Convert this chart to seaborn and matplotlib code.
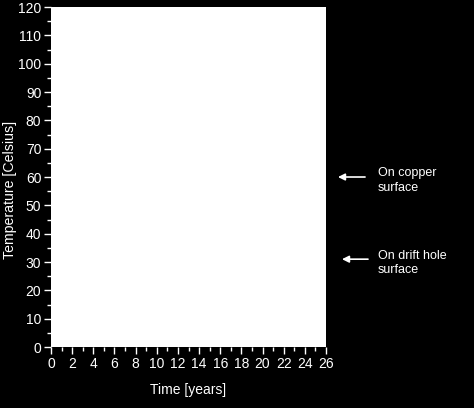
import matplotlib
matplotlib.use("Agg")
import matplotlib.pyplot as plt
import seaborn as sns
import pandas as pd

# Data (the reference chart shows an empty plot area)
time_years = []
temperature_c = []
x_ticks = list(range(0, 27, 2))
y_ticks = list(range(0, 121, 10))
annot_labels = ["On copper\nsurface", "On drift hole\nsurface"]
annot_values = [60, 31]

sns.set_style("white")
plt.rcParams['font.family'] = ['Liberation Sans', 'DejaVu Sans']

fig = plt.figure(figsize=(4.74, 4.08), dpi=100, facecolor="black")
ax = fig.add_axes([0.1076, 0.1495, 0.5802, 0.8333])
ax.set_facecolor("white")

df = pd.DataFrame({"t": pd.Series(time_years, dtype=float),
                   "T": pd.Series(temperature_c, dtype=float)})
if len(df):
    sns.lineplot(data=df, x="t", y="T", ax=ax)

ax.set_xlim(0, 26)
ax.set_ylim(0, 120)
ax.set_xticks(x_ticks)
ax.set_yticks(y_ticks)
ax.set_xticks(range(0, 27), minor=True)
ax.set_yticks(range(0, 121, 5), minor=True)
for s in ax.spines.values():
    s.set_visible(False)
ax.tick_params(which="both", direction="out", colors="white", labelcolor="white")
ax.tick_params(which="major", length=5, width=1, labelsize=10, pad=2)
ax.tick_params(which="minor", length=3, width=1)
ax.tick_params(axis="both", which="both", bottom=True, left=True)
ax.set_xlabel("Time [years]", color="white", fontsize=10, labelpad=9)
ax.set_ylabel("Temperature [Celsius]", color="white", fontsize=10.2)
ax.yaxis.set_label_coords(-0.122, 0.462)

arrow_tips = [27.13, 27.51]
arrow_tails = [29.69, 29.97]
for lab, v, tip, tail in zip(annot_labels, annot_values, arrow_tips, arrow_tails):
    ax.annotate("", xy=(tip, v), xytext=(tail, v), xycoords="data",
                annotation_clip=False,
                arrowprops=dict(arrowstyle="-|>", color="white", lw=1.2,
                                mutation_scale=10, shrinkA=0, shrinkB=0))
    ax.text(30.92, v - 1.3, lab, color="white", fontsize=9, va="center", ha="left",
            linespacing=1.3, clip_on=False)

fig.savefig("out.png", dpi=100, facecolor="black")
